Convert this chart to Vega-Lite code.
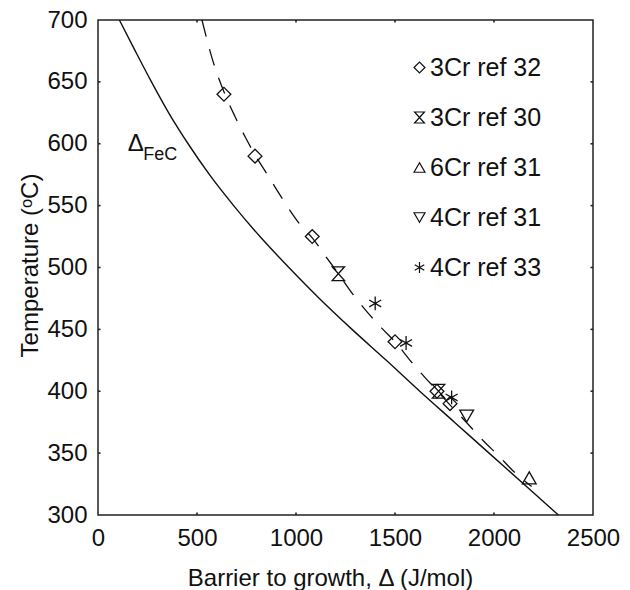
{
  "$schema": "https://vega.github.io/schema/vega-lite/v6.json",
  "width": 495,
  "height": 495,
  "autosize": {"type": "none"},
  "padding": {"left": 98, "top": 20, "right": 37, "bottom": 75},
  "background": "white",
  "config": {
    "font": "Liberation Sans",
    "view": {"stroke": "#222", "strokeWidth": 1.5},
    "tick": {"bandSize": 20},
    "axis": {
      "domain": false,
      "ticks": false,
      "grid": false,
      "labelFlush": false,
      "labelFont": "Liberation Sans",
      "labelFontSize": 24,
      "labelColor": "#111",
      "labelPadding": 11,
      "titleFont": "Liberation Sans",
      "titleFontSize": 24,
      "titleFontWeight": "normal",
      "titleColor": "#111"
    }
  },
  "datasets": {
    "fec": [
      {"delta": 108, "temp": 700},
      {"delta": 188, "temp": 675},
      {"delta": 270, "temp": 650},
      {"delta": 357, "temp": 625},
      {"delta": 455, "temp": 600},
      {"delta": 563, "temp": 575},
      {"delta": 685, "temp": 550},
      {"delta": 818, "temp": 525},
      {"delta": 964, "temp": 500},
      {"delta": 1118, "temp": 475},
      {"delta": 1283, "temp": 450},
      {"delta": 1456, "temp": 425},
      {"delta": 1625, "temp": 400},
      {"delta": 1800, "temp": 375},
      {"delta": 1975, "temp": 350},
      {"delta": 2150, "temp": 325},
      {"delta": 2325, "temp": 300}
    ],
    "fit": [
      {"delta": 525, "temp": 700},
      {"delta": 582, "temp": 666},
      {"delta": 636, "temp": 642},
      {"delta": 692, "temp": 622},
      {"delta": 745, "temp": 605},
      {"delta": 793, "temp": 591},
      {"delta": 852, "temp": 576},
      {"delta": 902, "temp": 563},
      {"delta": 970, "temp": 546},
      {"delta": 1029, "temp": 533},
      {"delta": 1082, "temp": 524},
      {"delta": 1150, "temp": 509},
      {"delta": 1214, "temp": 495},
      {"delta": 1289, "temp": 478},
      {"delta": 1360, "temp": 464},
      {"delta": 1433, "temp": 451},
      {"delta": 1500, "temp": 440},
      {"delta": 1576, "temp": 425},
      {"delta": 1652, "temp": 411},
      {"delta": 1710, "temp": 401},
      {"delta": 1760, "temp": 392},
      {"delta": 1860, "temp": 375},
      {"delta": 1946, "temp": 360},
      {"delta": 2022, "temp": 348},
      {"delta": 2094, "temp": 336},
      {"delta": 2190, "temp": 323}
    ],
    "obs": [
      {"series": "3Cr ref 32", "delta": 636, "temp": 640},
      {"series": "3Cr ref 32", "delta": 793, "temp": 590},
      {"series": "3Cr ref 32", "delta": 1082, "temp": 525},
      {"series": "3Cr ref 32", "delta": 1500, "temp": 440},
      {"series": "3Cr ref 32", "delta": 1712, "temp": 400},
      {"series": "3Cr ref 32", "delta": 1778, "temp": 390},
      {"series": "3Cr ref 30", "delta": 1214, "temp": 495},
      {"series": "3Cr ref 30", "delta": 1720, "temp": 400},
      {"series": "6Cr ref 31", "delta": 2178, "temp": 330},
      {"series": "4Cr ref 31", "delta": 1862, "temp": 380},
      {"series": "4Cr ref 33", "delta": 1400, "temp": 471},
      {"series": "4Cr ref 33", "delta": 1556, "temp": 439},
      {"series": "4Cr ref 33", "delta": 1786, "temp": 395}
    ],
    "xticks": [{"delta": 500}, {"delta": 1000}, {"delta": 1500}, {"delta": 2000}],
    "yticks": [{"temp": 350}, {"temp": 400}, {"temp": 450}, {"temp": 500}, {"temp": 550}, {"temp": 600}, {"temp": 650}]
  },
  "layer": [
    {
      "data": {"name": "fec"},
      "mark": {"type": "line", "color": "#111", "strokeWidth": 1.4, "interpolate": "monotone"},
      "encoding": {
        "x": {"field": "delta", "type": "quantitative",
              "scale": {"domain": [0, 2500], "nice": false, "zero": false},
              "axis": {"orient": "bottom", "values": [0, 500, 1000, 1500, 2000, 2500], "format": "d",
                       "title": "Barrier to growth, Δ (J/mol)",
                       "titleX": 232, "titleY": 70, "titleBaseline": "alphabetic", "titleAlign": "center"}},
        "y": {"field": "temp", "type": "quantitative",
              "scale": {"domain": [300, 700], "nice": false, "zero": false},
              "axis": {"orient": "left", "values": [300, 350, 400, 450, 500, 550, 600, 650, 700], "format": "d",
                       "title": "Temperature (ᵒC)",
                       "titleX": -68, "titleY": 245, "titleAngle": -90, "titleAlign": "center", "titleBaseline": "middle"}},
        "order": {"field": "temp", "sort": "descending"}
      }
    },
    {
      "data": {"name": "xticks"},
      "mark": {"type": "tick", "orient": "vertical", "thickness": 1.6, "color": "#222", "opacity": 1, "clip": true},
      "encoding": {
        "x": {"field": "delta", "type": "quantitative", "scale": {"domain": [0, 2500], "nice": false, "zero": false}},
        "y": {"datum": 300, "type": "quantitative", "scale": {"domain": [300, 700], "nice": false, "zero": false}}
      }
    },
    {
      "data": {"name": "xticks"},
      "mark": {"type": "tick", "orient": "vertical", "thickness": 1.6, "color": "#222", "opacity": 1, "clip": true},
      "encoding": {
        "x": {"field": "delta", "type": "quantitative", "scale": {"domain": [0, 2500], "nice": false, "zero": false}},
        "y": {"datum": 700, "type": "quantitative", "scale": {"domain": [300, 700], "nice": false, "zero": false}}
      }
    },
    {
      "data": {"name": "yticks"},
      "mark": {"type": "tick", "orient": "horizontal", "thickness": 1.6, "color": "#222", "opacity": 1, "clip": true},
      "encoding": {
        "y": {"field": "temp", "type": "quantitative", "scale": {"domain": [300, 700], "nice": false, "zero": false}},
        "x": {"datum": 0, "type": "quantitative", "scale": {"domain": [0, 2500], "nice": false, "zero": false}}
      }
    },
    {
      "data": {"name": "yticks"},
      "mark": {"type": "tick", "orient": "horizontal", "thickness": 1.6, "color": "#222", "opacity": 1, "clip": true},
      "encoding": {
        "y": {"field": "temp", "type": "quantitative", "scale": {"domain": [300, 700], "nice": false, "zero": false}},
        "x": {"datum": 2500, "type": "quantitative", "scale": {"domain": [0, 2500], "nice": false, "zero": false}}
      }
    },
    {
      "data": {"name": "fit"},
      "mark": {"type": "line", "color": "#111", "strokeWidth": 1.3, "strokeDash": [17, 13], "interpolate": "monotone"},
      "encoding": {
        "x": {"field": "delta", "type": "quantitative",
              "scale": {"domain": [0, 2500], "nice": false, "zero": false}},
        "y": {"field": "temp", "type": "quantitative",
              "scale": {"domain": [300, 700], "nice": false, "zero": false}}
      }
    },
    {
      "data": {"name": "obs"},
      "mark": {"type": "point", "filled": false, "color": "#111", "strokeWidth": 1.3, "size": 190, "opacity": 1},
      "encoding": {
        "x": {"field": "delta", "type": "quantitative",
              "scale": {"domain": [0, 2500], "nice": false, "zero": false}},
        "y": {"field": "temp", "type": "quantitative",
              "scale": {"domain": [300, 700], "nice": false, "zero": false}},
        "shape": {
          "field": "series", "type": "nominal",
          "scale": {
            "domain": ["3Cr ref 32", "3Cr ref 30", "6Cr ref 31", "4Cr ref 31", "4Cr ref 33"],
            "range": [
              "diamond",
              "M-0.9,-1L0.9,-1L-0.9,1L0.9,1Z",
              "triangle-up",
              "triangle-down",
              "M0,-1L0,1M-0.87,-0.5L0.87,0.5M-0.87,0.5L0.87,-0.5"
            ]
          },
          "legend": {
            "orient": "none",
            "legendX": 309,
            "legendY": 35,
            "title": null,
            "padding": 0,
            "labelFont": "Liberation Sans",
            "labelFontSize": 25,
            "labelColor": "#111",
            "labelOffset": -2,
            "symbolSize": 120,
            "symbolStrokeColor": "#111",
            "symbolStrokeWidth": 1.2,
            "symbolFillColor": "transparent",
            "rowPadding": 24
          }
        }
      }
    },
    {
      "data": {"values": [{"delta": 191, "temp": 600, "label": "Δ"}]},
      "mark": {"type": "text", "font": "Liberation Sans", "fontSize": 24, "color": "#111", "align": "center", "baseline": "middle"},
      "encoding": {
        "x": {"field": "delta", "type": "quantitative", "scale": {"domain": [0, 2500], "nice": false, "zero": false}},
        "y": {"field": "temp", "type": "quantitative", "scale": {"domain": [300, 700], "nice": false, "zero": false}},
        "text": {"field": "label"}
      }
    },
    {
      "data": {"values": [{"delta": 229, "temp": 591, "label": "FeC"}]},
      "mark": {"type": "text", "font": "Liberation Sans", "fontSize": 18, "color": "#111", "align": "left", "baseline": "middle"},
      "encoding": {
        "x": {"field": "delta", "type": "quantitative", "scale": {"domain": [0, 2500], "nice": false, "zero": false}},
        "y": {"field": "temp", "type": "quantitative", "scale": {"domain": [300, 700], "nice": false, "zero": false}},
        "text": {"field": "label"}
      }
    }
  ]
}
